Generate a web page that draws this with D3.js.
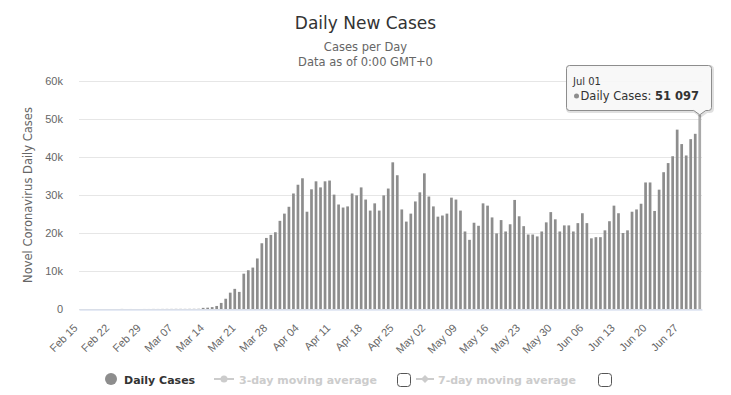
<!DOCTYPE html>
<html lang="en">
<head>
<meta charset="utf-8">
<title>Daily New Cases</title>
<style>
  html, body { margin:0; padding:0; background:#fff; }
  svg { display:block; font-family:"DejaVu Sans", sans-serif; }
  .grid line { stroke:#e6e6e6; }
  .grid path { display:none; }
  .yax text, .xax text { fill:#666; font-size:11px; }
  .yax path, .yax line { display:none; }
  .xax path { stroke:#ccd6eb; }
</style>
</head>
<body>
<svg id="chart" width="731" height="395"></svg>
<script src="https://cdn.jsdelivr.net/npm/d3@7"></script>
<script>
// daily new cases, one list per month
const startDay = "2020-02-15";
const febCases = [0, 0, 0, 0, 0, 0, 1, 0, 0, 18, 0, 6, 1, 1, 8];
const marCases = [7, 20, 15, 25, 30, 30, 40, 40, 35, 45, 50, 60,
  300, 350, 500, 800, 1600, 2700, 4300, 5300, 4500, 9300, 10200, 10900,
  13300, 17300, 18700, 19500, 20200, 23200, 25100];
const aprCases = [26900, 30400, 32700, 34400, 25600, 31500, 33600, 32000, 33600, 33800,
  30100, 27500, 26700, 27000, 30400, 29900, 32000, 28800, 25900, 27800,
  25900, 29900, 31700, 38600, 35200, 26200, 23000, 25100, 28300, 30700];
const mayCases = [35700, 29600, 27000, 24300, 24600, 25100, 29300, 28800, 25900, 20400,
  18200, 22700, 21900, 27800, 27200, 24100, 19900, 23400, 20400, 22300,
  28700, 24400, 21800, 19600, 19600, 19100, 20400, 22800, 25500, 23600, 20400];
const junCases = [22000, 22000, 20400, 22600, 25200, 22600, 18600, 18900, 18900, 20700,
  23100, 27200, 25200, 20000, 20700, 25600, 26200, 27700, 33300, 33300,
  25800, 31400, 36000, 38400, 40200, 47200, 43400, 40400, 44700, 46100];
const julCases = [51097];

const yTicks = [0, 10000, 20000, 30000, 40000, 50000, 60000];
const legendNames = ["Daily Cases", "3-day moving average", "7-day moving average"];

const cases = [].concat(febCases, marCases, aprCases, mayCases, junCases, julCases);
const t0 = d3.utcParse("%Y-%m-%d")(startDay);
const days = d3.utcDay.range(t0, d3.utcDay.offset(t0, cases.length));

const svg = d3.select("#chart");
const plotL = 79, plotR = 702, plotB = 309, plotT = 81;
const barColor = "#8d8d8d";

const x = d3.scaleBand().domain(days).range([plotL, plotR]).paddingInner(0.4).paddingOuter(0.2);
const y = d3.scaleLinear().domain([0, 60000]).range([plotB, plotT]);

// titles
svg.append("text").attr("x", 365.5).attr("y", 29).attr("text-anchor", "middle")
  .attr("font-size", 17).attr("fill", "#333").text("Daily New Cases");
svg.append("text").attr("x", 365.5).attr("y", 51).attr("text-anchor", "middle")
  .attr("font-size", 11.5).attr("fill", "#666").text("Cases per Day");
svg.append("text").attr("x", 365.5).attr("y", 66).attr("text-anchor", "middle")
  .attr("font-size", 11.5).attr("fill", "#666").text("Data as of 0:00 GMT+0");

// grid + y axis
svg.append("g").attr("class", "grid").attr("transform", `translate(${plotL},0)`)
  .call(d3.axisRight(y).tickValues(yTicks).tickSize(plotR - plotL).tickFormat(""));
svg.append("g").attr("class", "yax").attr("transform", "translate(63,0)")
  .call(d3.axisLeft(y).tickValues(yTicks).tickSize(0).tickPadding(0)
    .tickFormat(d => d === 0 ? "0" : d / 1000 + "k"));

svg.append("text").attr("transform", `translate(32,${(plotT + plotB) / 2}) rotate(-90)`)
  .attr("text-anchor", "middle").attr("font-size", 11.5).attr("fill", "#666")
  .text("Novel Coronavirus Daily Cases");

// bars
const last = cases.length - 1;
svg.append("g").selectAll("rect").data(cases).join("rect")
  .attr("x", (d, i) => x(days[i]))
  .attr("width", x.bandwidth())
  .attr("y", d => y(d))
  .attr("height", d => plotB - y(d))
  .attr("fill", (d, i) => i === last ? "#a9a9a9" : barColor);

// x axis
const weekly = days.filter((d, i) => i % 7 === 0);
const xg = svg.append("g").attr("class", "xax").attr("transform", `translate(0,${plotB + 0.5})`)
  .call(d3.axisBottom(x).tickValues(weekly).tickSize(0).tickFormat(d3.utcFormat("%b %d")));
xg.selectAll("text")
  .attr("text-anchor", "end")
  .attr("dy", 0)
  .attr("transform", "translate(-5,17) rotate(-45)");

// legend
const lg = svg.append("g").attr("font-size", 11).attr("font-weight", "bold");
lg.append("circle").attr("cx", 111).attr("cy", 379).attr("r", 6).attr("fill", barColor);
lg.append("text").attr("x", 124).attr("y", 383.5).attr("fill", "#333").text(legendNames[0]);

lg.append("line").attr("x1", 214).attr("x2", 234).attr("y1", 379).attr("y2", 379)
  .attr("stroke", "#ccc").attr("stroke-width", 2);
lg.append("circle").attr("cx", 224).attr("cy", 379).attr("r", 3.5).attr("fill", "#ccc");
lg.append("text").attr("x", 239).attr("y", 383.5).attr("fill", "#ccc").text(legendNames[1]);
lg.append("rect").attr("x", 397.5).attr("y", 373.5).attr("width", 13).attr("height", 13)
  .attr("rx", 3).attr("fill", "#fff").attr("stroke", "#555");

lg.append("line").attr("x1", 416).attr("x2", 434).attr("y1", 379).attr("y2", 379)
  .attr("stroke", "#ccc").attr("stroke-width", 2);
lg.append("path").attr("d", "M425,375L429,379L425,383L421,379Z").attr("fill", "#ccc");
lg.append("text").attr("x", 438).attr("y", 383.5).attr("fill", "#ccc").text(legendNames[2]);
lg.append("rect").attr("x", 598.5).attr("y", 373.5).attr("width", 13).attr("height", 13)
  .attr("rx", 3).attr("fill", "#fff").attr("stroke", "#555");

// tooltip on last day
const px = x(days[last]) + x.bandwidth() / 2, py = y(cases[last]);
const tip = svg.append("g");
const bx0 = 566.5, bx1 = 711.5, by0 = 65.5, by1 = 110.5;
const tipPath = `M${bx0 + 3},${by0}H${bx1 - 3}Q${bx1},${by0} ${bx1},${by0 + 3}V${by1 - 3}Q${bx1},${by1} ${bx1 - 3},${by1}` +
  `H${px + 6}L${px},${py}L${px - 6},${by1}H${bx0 + 3}Q${bx0},${by1} ${bx0},${by1 - 3}V${by0 + 3}Q${bx0},${by0} ${bx0 + 3},${by0}Z`;
tip.append("path").attr("d", tipPath).attr("transform", "translate(1,1)")
  .attr("fill", "none").attr("stroke", "rgba(0,0,0,0.12)").attr("stroke-width", 3);
tip.append("path").attr("d", tipPath).attr("fill", "rgba(247,247,247,0.92)")
  .attr("stroke", barColor).attr("stroke-width", 1);
tip.append("text").attr("x", 573).attr("y", 85).attr("font-size", 10).attr("fill", "#333")
  .text(d3.utcFormat("%b %d")(days[last]));
tip.append("circle").attr("cx", 576.5).attr("cy", 96).attr("r", 2.5).attr("fill", barColor);
const tl = tip.append("text").attr("x", 580.5).attr("y", 100).attr("font-size", 11.5).attr("fill", "#333");
tl.append("tspan").text("Daily Cases: ");
tl.append("tspan").attr("font-weight", "bold")
  .text(d3.format(",")(cases[last]).replace(/,/g, " "));
</script>
</body>
</html>
